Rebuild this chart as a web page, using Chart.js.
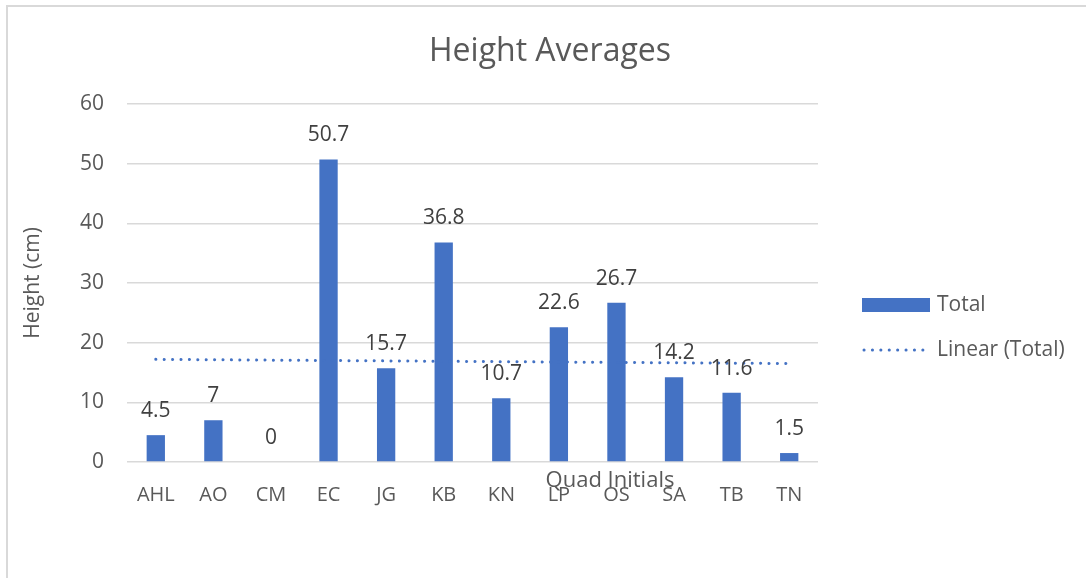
<!DOCTYPE html>
<html>
<head>
<meta charset="utf-8">
<script src="https://cdn.jsdelivr.net/npm/chart.js@4"></script>
<style>
  html, body { margin:0; padding:0; background:#fff; overflow:hidden; }
  #wrap { position:relative; width:1086px; height:578px; }
  #frame { position:absolute; left:6px; top:5px; width:1200px; height:700px; border-left:2px solid #d9d9d9; border-top:2px solid #d9d9d9; }
  canvas { position:absolute; left:0; top:0; }
</style>
</head>
<body>
<div id="wrap">
  <div id="frame"></div>
  <canvas id="c" width="1086" height="578"></canvas>
</div>
<script>
const categories = ["AHL","AO","CM","EC","JG","KB","KN","LP","OS","SA","TB","TN"];
const totals = [4.5, 7, 0, 50.7, 15.7, 36.8, 10.7, 22.6, 26.7, 14.2, 11.6, 1.5];
const trendEnds = [17.2, 16.5];
const yTicks = [0, 10, 20, 30, 40, 50, 60];

const chartTitle = "Height Averages";
const yTitle = "Height (cm)";
const xTitle = "Quad Initials";
const seriesName = "Total";
const trendName = "Linear (Total)";

const BLUE = "#4472C4";
const TXT = "#595959";
const FONT = "'Open Sans', 'Noto Sans', sans-serif";

const labelsPlugin = {
  id: 'valueLabels',
  afterDatasetsDraw(chart) {
    const ctx = chart.ctx;
    const meta = chart.getDatasetMeta(0);
    ctx.save();
    ctx.font = "21px " + FONT;
    ctx.fillStyle = "#404040";
    ctx.textAlign = "center";
    ctx.textBaseline = "alphabetic";
    meta.data.forEach((el, i) => {
      ctx.fillText(String(totals[i]), el.x, el.y - 18);
    });
    ctx.restore();
  }
};

const textPlugin = {
  id: 'texts',
  afterDraw(chart) {
    const ctx = chart.ctx;
    const a = chart.chartArea;
    ctx.save();
    ctx.fillStyle = TXT;
    ctx.font = "32px " + FONT;
    ctx.textAlign = "center";
    ctx.textBaseline = "alphabetic";
    ctx.fillText(chartTitle, 550, 61);
    ctx.font = "22px " + FONT;
    ctx.fillText(xTitle, 610, a.bottom + 25);
    ctx.save();
    ctx.translate(33, (a.top + a.bottom) / 2);
    ctx.rotate(-Math.PI / 2);
    ctx.textBaseline = "middle";
    ctx.font = "21px " + FONT;
    ctx.fillText(yTitle, 0, 0);
    ctx.restore();
    const lx = a.right + 44;
    ctx.fillStyle = BLUE;
    ctx.fillRect(lx, 298, 68, 14);
    ctx.strokeStyle = BLUE;
    ctx.lineWidth = 3;
    ctx.lineCap = "round";
    ctx.setLineDash([0.1, 8.3]);
    ctx.beginPath();
    ctx.moveTo(lx + 2, 350);
    ctx.lineTo(lx + 68, 350);
    ctx.stroke();
    ctx.setLineDash([]);
    ctx.fillStyle = TXT;
    ctx.font = "21px " + FONT;
    ctx.textAlign = "left";
    ctx.textBaseline = "middle";
    ctx.fillText(seriesName, lx + 75, 305);
    ctx.fillText(trendName, lx + 75, 350);
    ctx.restore();
  }
};

new Chart(document.getElementById('c'), {
  data: {
    labels: categories,
    datasets: [
      {
        type: 'bar',
        label: seriesName,
        data: totals,
        backgroundColor: BLUE,
        categoryPercentage: 1,
        barPercentage: 0.318,
        order: 2
      },
      {
        type: 'line',
        label: trendName,
        data: [{x: categories[0], y: trendEnds[0]}, {x: categories[categories.length - 1], y: trendEnds[1]}],
        borderColor: BLUE,
        borderWidth: 3,
        borderCapStyle: 'round',
        borderDash: [0.1, 8.3],
        pointRadius: 0,
        fill: false,
        order: 1
      }
    ]
  },
  options: {
    responsive: false,
    animation: false,
    events: [],
    layout: { padding: { top: 104, right: 268, left: 0, bottom: 0 } },
    plugins: { legend: { display: false }, title: { display: false }, tooltip: { enabled: false } },
    scales: {
      x: {
        type: 'category',
        grid: { display: false, drawTicks: false },
        border: { display: false },
        ticks: { color: TXT, font: { family: FONT, size: 20 }, padding: 21, maxRotation: 0, autoSkip: false },
        afterFit(s) { s.height = 116; }
      },
      y: {
        min: 0, max: 60,
        afterBuildTicks(s) { s.ticks = yTicks.map(v => ({ value: v })); },
        grid: { color: "#d9d9d9", lineWidth: 1.5, drawTicks: false },
        border: { display: false },
        ticks: { color: TXT, font: { family: FONT, size: 21 }, padding: 23 },
        afterFit(s) { s.width = 127; }
      }
    }
  },
  plugins: [labelsPlugin, textPlugin]
});
</script>
</body>
</html>
